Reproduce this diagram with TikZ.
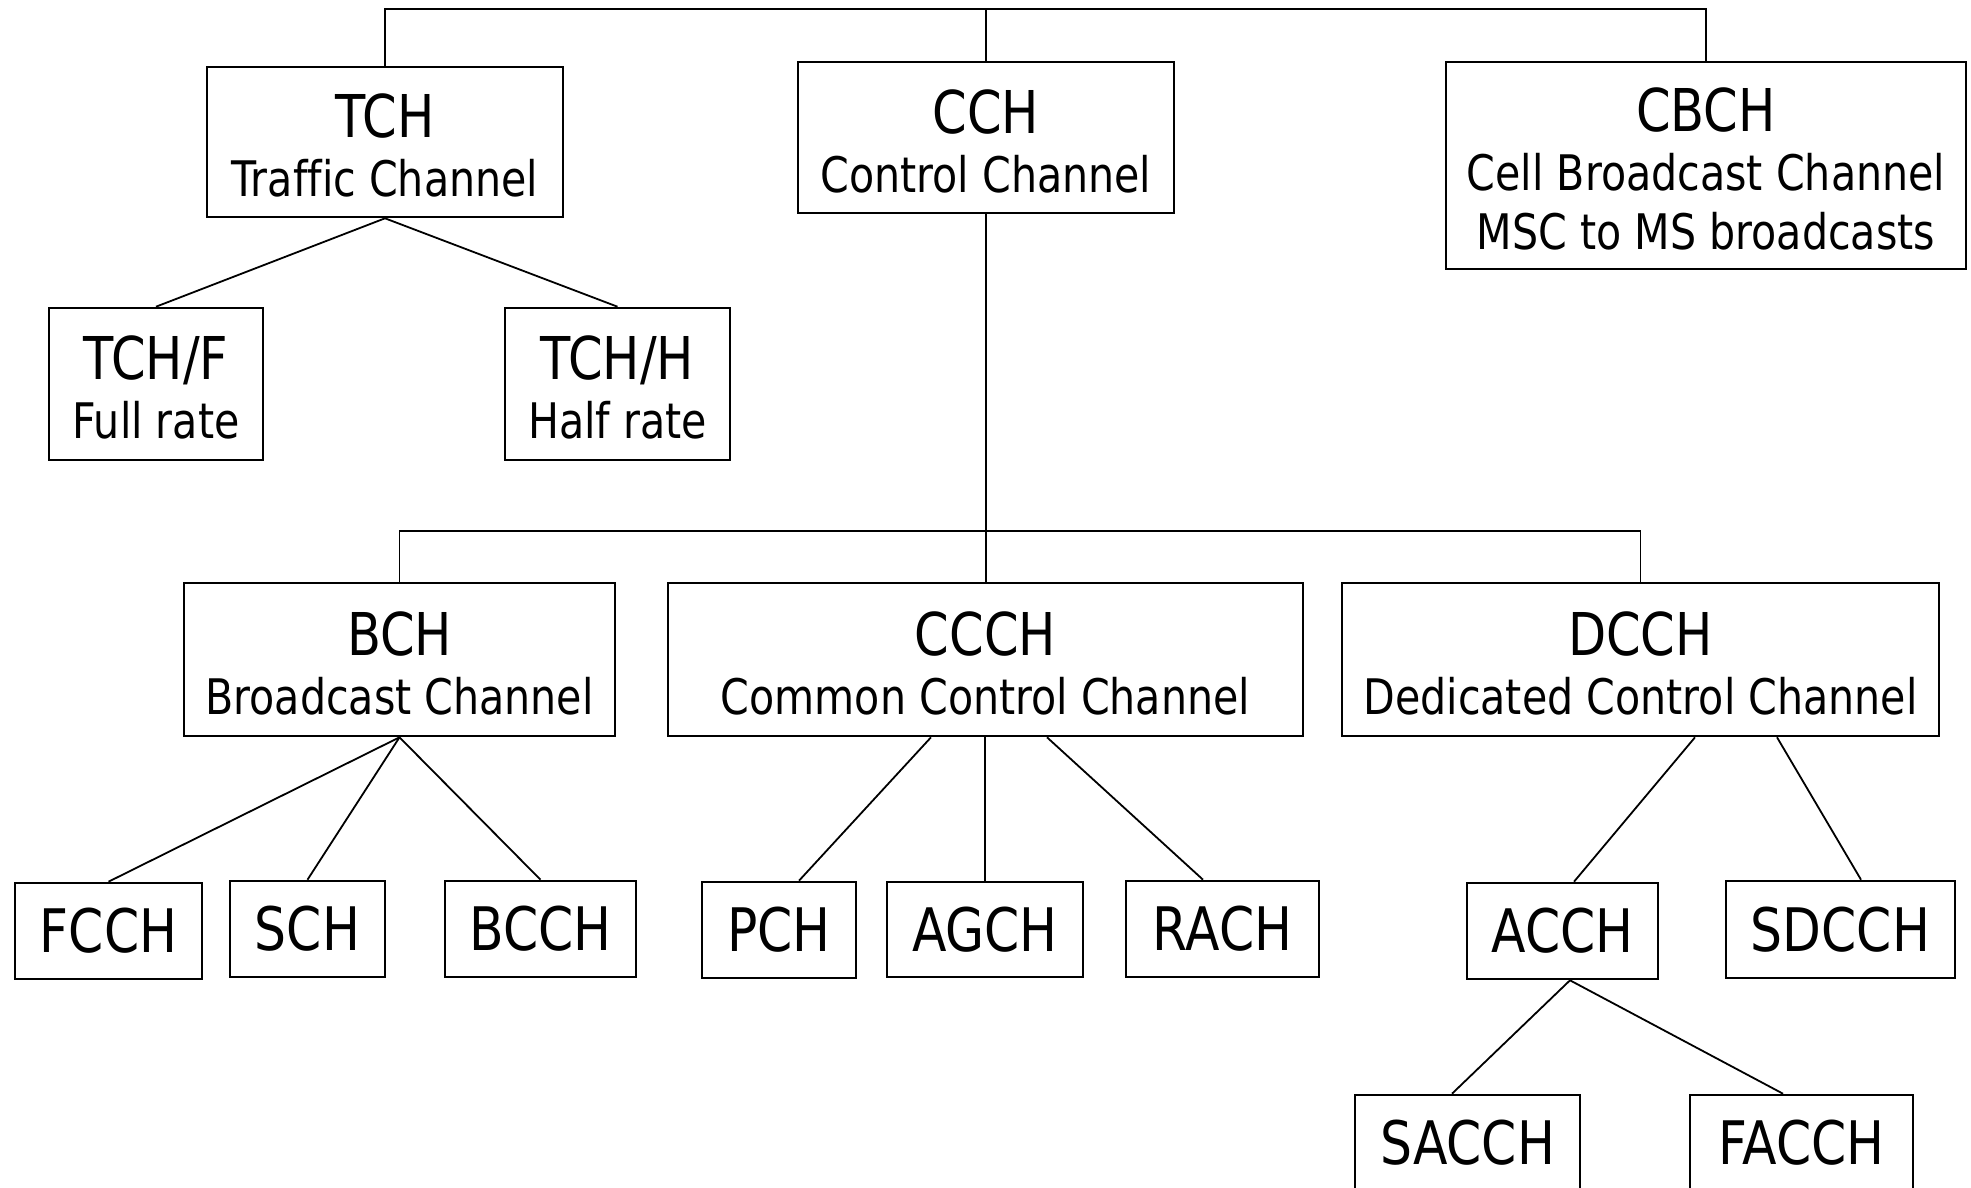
\documentclass[tikz,border=0pt]{standalone}
\usepackage{fontspec}
\setmainfont{DejaVu Sans}[FakeStretch=0.84, Ligatures=NoCommon]
\begin{document}
\begin{tikzpicture}[x=1pt,y=-1pt,
  chbox/.style={draw, line width=2.6pt, inner sep=0pt, align=center,
    font=\fontsize{49}{59}\selectfont},
  leafbox/.style={chbox, font=\fontsize{60}{59}\selectfont},
  link/.style={line width=1.8pt}]
\newcommand{\ttl}[1]{{\fontsize{59}{59}\selectfont\rule{0pt}{51pt}#1}}
\useasboundingbox (0,0) rectangle (1971,1187);
\clip (0,0) rectangle (1971,1187);
\fill[white] (0,0) rectangle (1971,1187);

% first level
\node[chbox, minimum width=356pt, minimum height=150pt] (TCH) at (385,142)
  {\ttl{TCH}\\Traffic Channel};
\node[chbox, minimum width=376pt, minimum height=151pt] (CCH) at (986,137.5)
  {\ttl{CCH}\\Control Channel};
\node[chbox, minimum width=520pt, minimum height=207pt] (CBCH) at (1706,165.5)
  {\ttl{CBCH}\\Cell Broadcast Channel\\MSC to MS broadcasts};

% traffic channels
\node[chbox, minimum width=214pt, minimum height=152pt] (TCHF) at (156,384)
  {\ttl{TCH/F}\\Full rate};
\node[chbox, minimum width=225pt, minimum height=152pt] (TCHH) at (617.5,384)
  {\ttl{TCH/H}\\Half rate};

% control channel groups
\node[chbox, minimum width=431pt, minimum height=153pt] (BCH) at (399.5,659.5)
  {\ttl{BCH}\\Broadcast Channel};
\node[chbox, minimum width=635pt, minimum height=153pt] (CCCH) at (985.5,659.5)
  {\ttl{CCCH}\\Common Control Channel};
\node[chbox, minimum width=597pt, minimum height=153pt] (DCCH) at (1640.5,659.5)
  {\ttl{DCCH}\\Dedicated Control Channel};

% logical channels
\node[leafbox, minimum width=187pt, minimum height=96pt] (FCCH) at (108.5,931) {FCCH};
\node[leafbox, minimum width=155pt, minimum height=96pt] (SCH) at (307.5,929) {SCH};
\node[leafbox, minimum width=191pt, minimum height=96pt] (BCCH) at (540.5,929) {BCCH};
\node[leafbox, minimum width=154pt, minimum height=96pt] (PCH) at (779,930) {PCH};
\node[leafbox, minimum width=196pt, minimum height=95pt] (AGCH) at (985,929.5) {AGCH};
\node[leafbox, minimum width=193pt, minimum height=96pt] (RACH) at (1222.5,929) {RACH};
\node[leafbox, minimum width=191pt, minimum height=96pt] (ACCH) at (1562.5,931) {ACCH};
\node[leafbox, minimum width=229pt, minimum height=97pt] (SDCCH) at (1840.5,929.5) {SDCCH};
\node[leafbox, minimum width=225pt, minimum height=96pt] (SACCH) at (1467.5,1143) {SACCH};
\node[leafbox, minimum width=223pt, minimum height=96pt] (FACCH) at (1801.5,1143) {FACCH};

% buses
\coordinate (topbus) at (0,9);
\coordinate (midbus) at (0,531);
\draw[link] (TCH.north) |- (CBCH.north |- topbus) -- (CBCH.north);
\draw[link] (CCH.north) -- (CCH.north |- topbus);
\draw[link] (BCH.north) |- (DCCH.north |- midbus) -- (DCCH.north);
\draw[link] (CCH.south) -- (CCH.south |- CCCH.north);

% branches
\draw[link] (TCH.south) -- (TCHF.north);
\draw[link] (TCH.south) -- (TCHH.north);
\draw[link] (BCH.south) -- (FCCH.north);
\draw[link] (BCH.south) -- (SCH.north);
\draw[link] (BCH.south) -- (BCCH.north);
\draw[link] ([xshift=-54.5pt]CCCH.south) -- ([xshift=20pt]PCH.north);
\draw[link] (AGCH.north |- CCCH.south) -- (AGCH.north);
\draw[link] ([xshift=61.5pt]CCCH.south) -- ([xshift=-19.5pt]RACH.north);
\draw[link] ([xshift=54.5pt]DCCH.south) -- ([xshift=11.5pt]ACCH.north);
\draw[link] ([xshift=136.5pt]DCCH.south) -- ([xshift=20.5pt]SDCCH.north);
\draw[link] ([xshift=7.5pt]ACCH.south) -- ([xshift=-15.5pt]SACCH.north);
\draw[link] ([xshift=7.5pt]ACCH.south) -- ([xshift=-18.5pt]FACCH.north);
\end{tikzpicture}
\end{document}
